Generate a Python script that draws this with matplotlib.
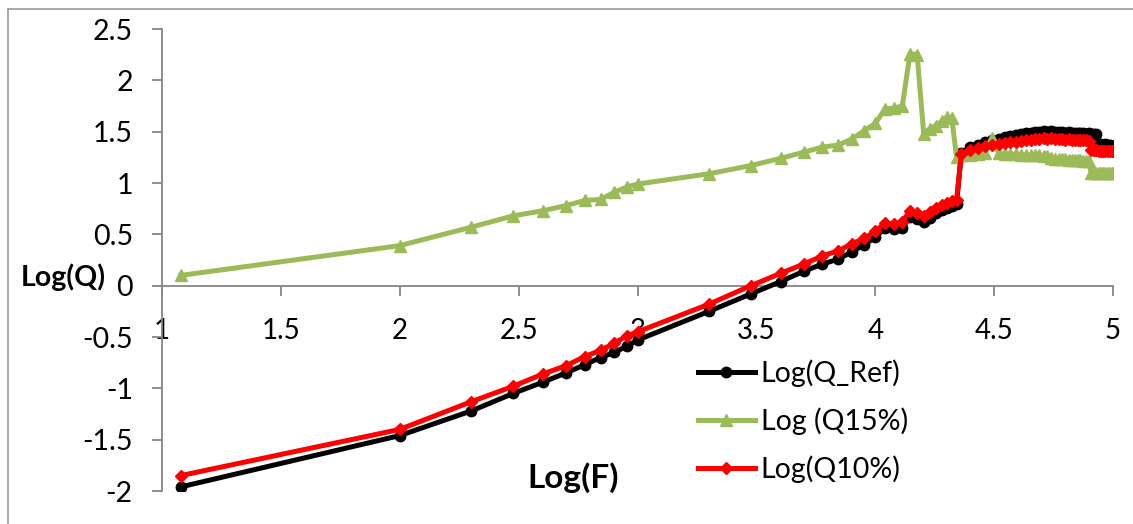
import matplotlib.pyplot as plt
from matplotlib.lines import Line2D

# Log(F) positions of the measurements
log_f = [1.079, 2.0, 2.301, 2.477, 2.602, 2.699, 2.778, 2.845, 2.903, 2.954,
         3.0, 3.301, 3.477, 3.602, 3.699, 3.778, 3.845, 3.903, 3.954,
         4.0, 4.041, 4.079, 4.114, 4.146, 4.176, 4.204, 4.230, 4.255, 4.279,
         4.301, 4.322, 4.342,
         4.362, 4.398, 4.431, 4.462, 4.491, 4.519, 4.544, 4.568, 4.591, 4.613,
         4.633, 4.653, 4.672, 4.690, 4.708, 4.724, 4.740, 4.756, 4.771, 4.785,
         4.799, 4.813, 4.826, 4.839, 4.851, 4.863, 4.875, 4.886, 4.898, 4.908,
         4.919, 4.929, 4.940, 4.949, 4.959, 4.968, 4.978, 4.987, 4.996, 5.0]

log_q_ref = [-1.96, -1.46, -1.22, -1.05, -0.94, -0.85, -0.77, -0.70, -0.65, -0.59,
             -0.53, -0.25, -0.08, 0.04, 0.14, 0.21, 0.26, 0.33, 0.40,
             0.47, 0.56, 0.55, 0.56, 0.67, 0.65, 0.62, 0.66, 0.71, 0.74,
             0.76, 0.78, 0.80,
             1.29, 1.35, 1.37, 1.40, 1.42, 1.43, 1.45, 1.46, 1.47, 1.48,
             1.49, 1.49, 1.50, 1.50, 1.51, 1.50, 1.51, 1.50, 1.50, 1.50,
             1.49, 1.50, 1.49, 1.49, 1.49, 1.49, 1.49, 1.48, 1.49, 1.48,
             1.48, 1.48, 1.38, 1.38, 1.37, 1.38, 1.37, 1.37, 1.36, 1.36]

log_q15 = [0.10, 0.39, 0.57, 0.68, 0.73, 0.78, 0.83, 0.84, 0.91, 0.96,
           0.99, 1.09, 1.17, 1.24, 1.30, 1.35, 1.37, 1.43, 1.51,
           1.58, 1.72, 1.73, 1.75, 2.26, 2.25, 1.48, 1.53, 1.56, 1.60,
           1.64, 1.63, 1.25,
           1.27, 1.27, 1.28, 1.29, 1.44, 1.29, 1.28, 1.28, 1.28, 1.27,
           1.27, 1.27, 1.27, 1.27, 1.26, 1.26, 1.24, 1.23, 1.23, 1.23,
           1.23, 1.22, 1.22, 1.22, 1.22, 1.22, 1.21, 1.21, 1.21, 1.10,
           1.10, 1.10, 1.10, 1.10, 1.10, 1.10, 1.10, 1.10, 1.10, 1.10]

log_q10 = [-1.85, -1.40, -1.13, -0.98, -0.86, -0.78, -0.69, -0.63, -0.56, -0.49,
           -0.45, -0.18, 0.0, 0.12, 0.21, 0.29, 0.34, 0.41, 0.46,
           0.53, 0.61, 0.60, 0.62, 0.73, 0.71, 0.68, 0.72, 0.76, 0.79,
           0.81, 0.82, 0.83,
           1.28, 1.32, 1.34, 1.36, 1.37, 1.38, 1.39, 1.40, 1.40, 1.41,
           1.42, 1.42, 1.43, 1.43, 1.44, 1.43, 1.44, 1.43, 1.43, 1.43,
           1.42, 1.43, 1.42, 1.42, 1.42, 1.42, 1.42, 1.42, 1.41, 1.32,
           1.32, 1.32, 1.31, 1.31, 1.31, 1.31, 1.31, 1.31, 1.31, 1.31]

x_ticks = [1, 1.5, 2, 2.5, 3, 3.5, 4, 4.5, 5]
x_labels = ['1', '1.5', '2', '2.5', '3', '3.5', '4', '4.5', '5']
y_ticks = [-2, -1.5, -1, -0.5, 0, 0.5, 1, 1.5, 2, 2.5]
y_labels = ['-2', '-1.5', '-1', '-0.5', '0', '0.5', '1', '1.5', '2', '2.5']

plt.rcParams['font.family'] = ['Lato', 'DejaVu Sans']

fig = plt.figure(figsize=(11.33, 5.24), dpi=100)
ax = fig.add_axes([162 / 1133, 33 / 524, 951 / 1133, 462 / 524])

ax.plot(log_f, log_q_ref, color='black', lw=3.6, marker='o', ms=7.5,
        label='Log(Q_Ref)', zorder=3)
ax.plot(log_f, log_q15, color='#9bbb59', lw=3.6, marker='^', ms=8,
        label='Log (Q15%)', zorder=4)
ax.plot(log_f, log_q10, color='red', lw=3.6, marker='D', ms=6,
        label='Log(Q10%)', zorder=5)

ax.set_xlim(1, 5)
ax.set_ylim(-2, 2.5)

# Excel style axes: vertical at x=1, horizontal crossing at y=0
axis_gray = '#868686'
for side in ['top', 'right']:
    ax.spines[side].set_visible(False)
ax.spines['bottom'].set_position(('data', 0))
ax.spines['bottom'].set_color(axis_gray)
ax.spines['left'].set_color(axis_gray)
ax.spines['bottom'].set_linewidth(1.3)
ax.spines['left'].set_linewidth(1.3)

ax.set_xticks(x_ticks)
ax.set_xticklabels(x_labels)
ax.set_yticks(y_ticks)
ax.set_yticklabels(y_labels)
ax.tick_params(axis='x', direction='out', length=7, width=1.3, color=axis_gray,
               labelsize=20, pad=16)
ax.tick_params(axis='y', direction='out', length=7, width=1.3, color=axis_gray,
               labelsize=20.5, pad=14)

ax.text(-0.149, 0.08, 'Log(Q)', transform=ax.get_yaxis_transform(), fontsize=20.5,
        fontweight='bold', ha='left', va='center')
ax.text(2.73, -1.87, 'Log(F)', fontsize=24, fontweight='bold',
        ha='center', va='center')

ax.legend(loc='center left', bbox_to_anchor=(0.5636, 0.1515), frameon=False,
          fontsize=20.5, handlelength=2.0, handletextpad=0.2, labelspacing=0.72,
          borderaxespad=0, borderpad=0)

# partial chart frame (left and top edges only)
fig.add_artist(Line2D([8 / 1133, 8 / 1133], [0, 1 - 9 / 524], color='#9a9a9a',
                      lw=1.2, transform=fig.transFigure))
fig.add_artist(Line2D([8 / 1133, 1], [1 - 9 / 524, 1 - 9 / 524], color='#9a9a9a',
                      lw=1.2, transform=fig.transFigure))

fig.savefig('out.png', dpi=100)
